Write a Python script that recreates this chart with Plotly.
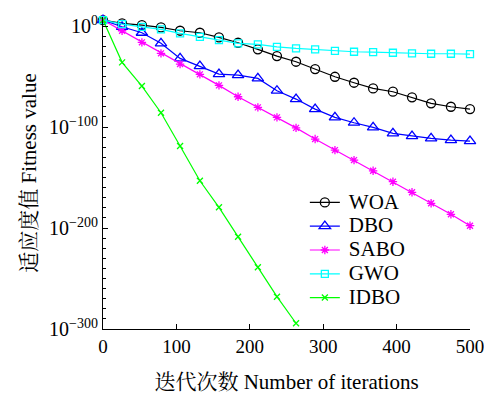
import plotly.graph_objects as go

iters = [0, 26, 53, 79, 105, 132, 158, 184, 211, 237, 263, 289, 316, 342, 368, 395, 421, 447, 474, 500]

# log10 of fitness values
woa_exp = [6, 2.7, 1, -1.3, -4.6, -6.6, -11.2, -16.5, -23, -29.7, -35.3, -42.6, -50.2, -56.1, -61.7, -65, -70.6, -76.5, -79.9, -82.2]
dbo_exp = [6, -0.7, -6.6, -17.1, -32, -39.6, -47.5, -48.5, -51.8, -64, -72.3, -82.2, -90.4, -95.7, -100.3, -106.2, -108.9, -111.2, -112.9, -113.9]
sabo_exp = [6, -4.6, -16.1, -27, -37.6, -47.8, -58.7, -70, -80.5, -90.4, -100.8, -111.9, -122.8, -132.7, -143.3, -154.1, -164.6, -175.5, -186.4, -197.7]
gwo_exp = [6, 2, -0.7, -3.3, -7.2, -10.6, -13.9, -17.1, -18.1, -20.5, -22.1, -23.1, -24.5, -25.4, -25.7, -26.4, -27, -27.4, -27.4, -27.7]
idbo_exp = [6, -35.9, -59.4, -85.8, -118.8, -153.2, -179.5, -208.6, -238.9, -268, -294.3]

names = ["WOA", "DBO", "SABO", "GWO", "IDBO"]
colors = ["#000000", "#0000ff", "#ff00ff", "#00ffff", "#00ff00"]
symbols = ["circle-open", "triangle-up-open", "asterisk-open", "square-open", "x-thin-open"]
sizes = [9, 10, 7, 7, 6]
series = [woa_exp, dbo_exp, sabo_exp, gwo_exp, idbo_exp]

y_major = [0, -100, -200, -300]
y_major_text = ["10<sup>0</sup>", "10<sup>−100</sup>", "10<sup>−200</sup>", "10<sup>−300</sup>"]
x_ticks = [0, 100, 200, 300, 400, 500]

FONT = "Times New Roman, Liberation Serif, Noto Serif CJK SC, Noto Sans CJK SC, serif"

fig = go.Figure()
for name, col, sym, sz, ex in zip(names, colors, symbols, sizes, series):
    fig.add_trace(go.Scatter(
        x=iters[:len(ex)], y=[10.0 ** e for e in ex],
        name="\u00a0<span style='font-size:21px'>" + name + "</span>",
        mode="lines+markers",
        line=dict(color=col, width=1.2),
        marker=dict(symbol=sym, size=sz, color=col, line=dict(color=col, width=1.3)),
        cliponaxis=False,
    ))

fig.update_layout(
    template="none",
    width=484, height=396,
    margin=dict(l=103, r=14, t=17, b=67),
    paper_bgcolor="white", plot_bgcolor="white",
    font=dict(family=FONT, size=18, color="black"),
    legend=dict(x=0.55, y=0.46, xanchor="left", yanchor="top",
                bgcolor="rgba(0,0,0,0)", font=dict(family=FONT, size=16), tracegroupgap=0),
)
fig.update_xaxes(
    range=[0, 500], tickvals=x_ticks, ticktext=[str(v) for v in x_ticks],
    automargin=False, ticklabeloverflow="allow",
    showline=True, linecolor="black", linewidth=1, mirror=False,
    ticks="inside", ticklen=5, tickcolor="black", showgrid=False, zeroline=False,
    tickfont=dict(family=FONT, size=19),
    title=dict(text="迭代次数 Number of iterations", font=dict(family=FONT, size=21), standoff=18),
)
fig.update_yaxes(
    type="log", range=[-300, 9], automargin=False,
    tickvals=[10.0 ** v for v in y_major], ticktext=y_major_text,
    showline=True, linecolor="black", linewidth=1, mirror=False,
    ticks="inside", ticklen=5, tickcolor="black", showgrid=False, zeroline=False,
    tickfont=dict(family=FONT, size=20),
    minor=dict(tickvals=[10.0 ** (-k) for k in range(10, 300, 10)], ticks="inside",
               ticklen=3, tickcolor="black", showgrid=False),
    title=dict(text="适应度值 Fitness value", font=dict(family=FONT, size=21), standoff=6),
)

fig.write_html("out.html")
